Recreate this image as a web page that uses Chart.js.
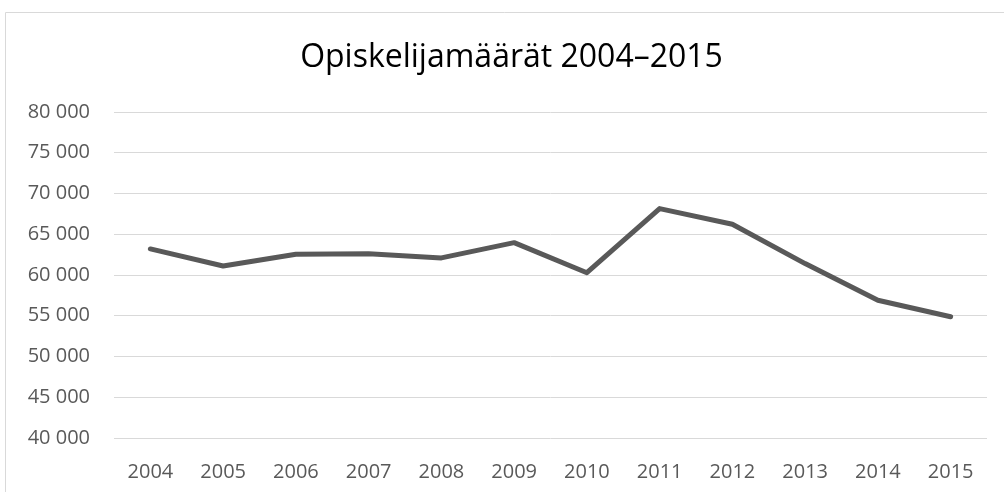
<!DOCTYPE html>
<html>
<head>
<meta charset="utf-8">
<script src="https://cdn.jsdelivr.net/npm/chart.js@4/dist/chart.umd.min.js"></script>
<style>
    body { margin: 0; background: #fff; }
    #graph { display: block; }
</style>
</head>
<body>
<canvas id="graph" width="1004" height="492"></canvas>
<script>
const years = ['2004', '2005', '2006', '2007', '2008', '2009', '2010', '2011', '2012', '2013', '2014', '2015'];
const students = [63200, 61100, 62550, 62600, 62100, 63970, 60280, 68150, 66230, 61400, 56900, 54880];
const yMin = 40000;
const yMax = 80000;
const yStep = 5000;

const canvas = document.getElementById('graph');

function formatThousands(value) {
    return String(value).replace(/\B(?=(\d{3})+(?!\d))/g, ' ');
}

// thin frame of the chart box (top and left edges show in the crop)
const frame = {
    id: 'frame',
    afterLayout(chart) {
        // the original box is wider than the crop, so its title sits right of centre
        if (chart.titleBlock) {
            chart.titleBlock.left = 36;
        }
    },
    beforeDraw(chart) {
        const ctx = chart.ctx;
        ctx.save();
        ctx.strokeStyle = '#d9d9d9';
        ctx.lineWidth = 1;
        ctx.beginPath();
        ctx.moveTo(5.5, chart.height);
        ctx.lineTo(5.5, 12.5);
        ctx.lineTo(chart.width, 12.5);
        ctx.stroke();
        ctx.restore();
    }
};

const chart = new Chart(canvas, {
    type: 'line',
    data: {
        labels: years,
        datasets: [{
            label: 'Opiskelijat',
            data: students,
            borderColor: '#595959',
            borderWidth: 5,
            borderCapStyle: 'round',
            borderJoinStyle: 'round',
            pointRadius: 0,
            tension: 0,
            fill: false
        }]
    },
    options: {
        responsive: false,
        animation: false,
        devicePixelRatio: 1,
        layout: {
            padding: { left: 0, right: 17, top: 0, bottom: 0 }
        },
        plugins: {
            legend: { display: false },
            tooltip: { enabled: false },
            title: {
                display: true,
                text: 'Opiskelijamäärät 2004–2015',
                color: '#000000',
                font: { family: 'Open Sans', size: 32, weight: 'normal' },
                padding: { top: 39, bottom: 34.6 }
            }
        },
        scales: {
            x: {
                offset: true,
                grid: { display: false },
                border: { display: false },
                ticks: {
                    color: '#595959',
                    padding: 14,
                    maxRotation: 0,
                    font: { family: 'Open Sans', size: 20 }
                },
                afterFit(scale) { scale.height = 54; }
            },
            y: {
                min: yMin,
                max: yMax,
                grid: { color: '#d9d9d9', lineWidth: 1, drawTicks: false },
                border: { display: false },
                ticks: {
                    stepSize: yStep,
                    color: '#595959',
                    padding: 24,
                    font: { family: 'Open Sans', size: 20 },
                    callback: value => formatThousands(value)
                },
                afterFit(scale) { scale.width = 114; }
            }
        }
    },
    plugins: [frame]
});
</script>
</body>
</html>
